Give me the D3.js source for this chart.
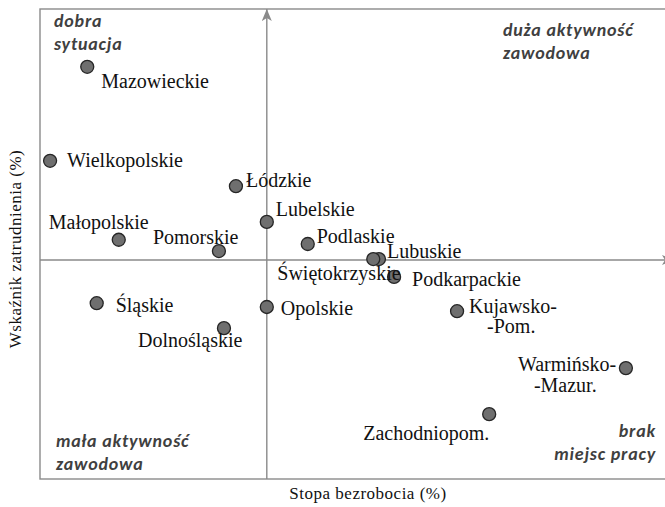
<!DOCTYPE html>
<html>
<head>
<meta charset="utf-8">
<script src="https://cdn.jsdelivr.net/npm/d3@7"></script>
<style>
	body { margin: 0; background: #fff; }
</style>
</head>
<body>
<script>
(function(){
	//voivodeships, stopa bezrobocia (x) and wskaznik zatrudnienia (y) on a relative 0-100 scale
	var regions = ['Mazowieckie', 'Wielkopolskie', 'Łódzkie', 'Lubelskie', 'Małopolskie', 'Pomorskie', 'Podlaskie', 'Lubuskie',
		'Świętokrzyskie', 'Podkarpackie', 'Śląskie', 'Opolskie', 'Dolnośląskie', 'Kujawsko-Pom.', 'Warmińsko-Mazur.', 'Zachodniopom.'];
	var unemployment = [7.5, 1.6, 31.1, 36.0, 12.5, 28.4, 42.5, 53.8, 52.9, 56.2, 9.0, 36.0, 29.2, 66.2, 93.0, 71.3];
	var employment = [87.7, 67.7, 62.3, 54.7, 50.9, 48.5, 50.0, 46.8, 46.8, 43.0, 37.4, 36.6, 32.1, 35.7, 23.6, 13.8];
	//lines of each label (two-line labels split at the hyphen)
	var labelLines = [['Mazowieckie'], ['Wielkopolskie'], ['Łódzkie'], ['Lubelskie'], ['Małopolskie'], ['Pomorskie'], ['Podlaskie'], ['Lubuskie'],
		['Świętokrzyskie'], ['Podkarpackie'], ['Śląskie'], ['Opolskie'], ['Dolnośląskie'], ['Kujawsko-', '-Pom.'], ['Warmińsko-', '-Mazur.'], ['Zachodniopom.']];
	//where the quadrant lines cross
	var crossX = 36.0,
		crossY = 46.6;
	var axisTitles = ['Stopa bezrobocia (%)', 'Wskaźnik zatrudnienia (%)'];
	var quadrants = [['dobra', 'sytuacja'], ['duża aktywność', 'zawodowa'], ['mała aktywność', 'zawodowa'], ['brak', 'miejsc pracy']];

	var serif = "'Liberation Serif'",
		lineColor = "#8a8a8a";

window.onload = setChart();

function setChart(){
	var width = 665,
		height = 507;

	var svg = d3.select("body")
		.append("svg")
		.attr("width", width)
		.attr("height", height);

	var x = d3.scaleLinear().domain([0, 100]).range([40, 670]),
		y = d3.scaleLinear().domain([0, 100]).range([479, 9]);

	//arrow heads for the quadrant lines
	var defs = svg.append("defs");
	defs.append("marker")
		.attr("id", "arrow")
		.attr("viewBox", "0 0 12 10")
		.attr("refX", 12)
		.attr("refY", 5)
		.attr("markerWidth", 12)
		.attr("markerHeight", 10)
		.attr("markerUnits", "userSpaceOnUse")
		.attr("orient", "auto")
		.append("path")
		.attr("d", "M0,0 L12,5 L0,10 L3,5 Z")
		.style("fill", lineColor);

	//frame
	svg.append("rect")
		.attr("x", x(0))
		.attr("y", y(100))
		.attr("width", x(100) - x(0))
		.attr("height", y(0) - y(100))
		.style("fill", "none")
		.style("stroke", lineColor)
		.style("stroke-width", 1.4);

	//quadrant lines
	svg.append("line")
		.attr("x1", x(crossX)).attr("x2", x(crossX))
		.attr("y1", y(0)).attr("y2", y(100))
		.attr("marker-end", "url(#arrow)")
		.style("stroke", lineColor)
		.style("stroke-width", 1.4);
	svg.append("line")
		.attr("x1", x(0)).attr("x2", x(100) + 4)
		.attr("y1", y(crossY)).attr("y2", y(crossY))
		.attr("marker-end", "url(#arrow)")
		.style("stroke", lineColor)
		.style("stroke-width", 1.4);

	setQuadrants(svg);
	setPoints(svg, x, y);

	//axis titles
	svg.append("text")
		.attr("x", 368)
		.attr("y", 499)
		.attr("text-anchor", "middle")
		.style("font-family", serif)
		.style("font-size", "17px")
		.style("letter-spacing", "0.5px")
		.style("fill", "#111")
		.text(axisTitles[0]);
	svg.append("text")
		.attr("transform", "translate(21,249) rotate(-90)")
		.attr("text-anchor", "middle")
		.style("font-family", serif)
		.style("font-size", "17px")
		.style("letter-spacing", "0.5px")
		.style("fill", "#111")
		.text(axisTitles[1]);
};

function setQuadrants(svg){
	//anchor, x, baseline of first line for each quadrant note
	var spots = [
		{anchor: "start", px: 54, py: 27},
		{anchor: "start", px: 503, py: 36},
		{anchor: "start", px: 56, py: 447},
		{anchor: "end", px: 656, py: 437}
	];
	quadrants.forEach(function(lines, i){
		var t = svg.append("text")
			.attr("text-anchor", spots[i].anchor)
			.style("font-family", "'Carlito'")
			.style("font-weight", "bold")
			.style("font-style", "italic")
			.style("font-size", "18px")
			.style("letter-spacing", "0.8px")
			.style("fill", "#404040");
		lines.forEach(function(line, j){
			t.append("tspan")
				.attr("x", spots[i].px)
				.attr("y", spots[i].py + j * 23)
				.text(line);
		});
	});
};

function setPoints(svg, x, y){
	//label offsets from the point centre: [dx, dy] per line
	var offsets = [
		[[14, 21]], [[17, 6]], [[10, 1]], [[9, -6]], [[-70, -11]], [[-66, -7]], [[9, -1]], [[8, -1]],
		[[-96, 21]], [[18, 9]], [[19, 9]], [[14, 8]], [[-86, 19]], [[12, 2], [30, 22]], [[-108, 3], [-92, 24]], [[-126, 26]]
	];

	var data = regions.map(function(name, i){
		return {name: name, ux: unemployment[i], ey: employment[i], lines: labelLines[i], off: offsets[i]};
	});

	svg.selectAll(".region")
		.data(data)
		.enter()
		.append("circle")
		.attr("class", "region")
		.attr("cx", function(d){ return x(d.ux); })
		.attr("cy", function(d){ return y(d.ey); })
		.attr("r", 6.5)
		.style("fill", "#6f6f6f")
		.style("stroke", "#262626")
		.style("stroke-width", 1.3);

	var labels = svg.selectAll(".label")
		.data(data)
		.enter()
		.append("text")
		.attr("class", "label")
		.style("font-family", serif)
		.style("font-size", "20px")
		.style("fill", "#111");

	labels.each(function(d){
		var t = d3.select(this);
		d.lines.forEach(function(line, j){
			t.append("tspan")
				.attr("x", x(d.ux) + d.off[j][0])
				.attr("y", y(d.ey) + d.off[j][1])
				.text(line);
		});
	});
};

})();
</script>
</body>
</html>
